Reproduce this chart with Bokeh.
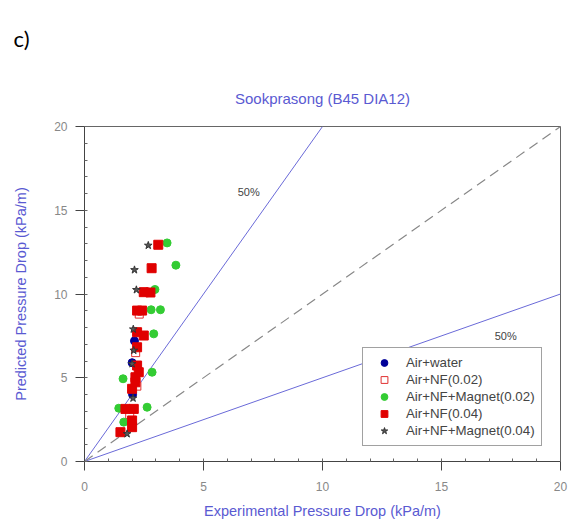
import numpy as np
from bokeh.plotting import figure
from bokeh.models import Range1d, Label, Legend, LegendItem, FixedTicker, Title
from bokeh.embed import file_html
from bokeh.resources import INLINE

# ---- data ----
water_x = [2.00, 2.02, 2.10]
water_y = [5.90, 4.00, 7.20]

nf02_x = [2.15, 2.20, 1.90, 2.30]
nf02_y = [6.50, 4.50, 2.80, 8.80]

mag02_x = [3.47, 3.84, 2.96, 2.80, 3.19, 2.91, 2.84, 1.62, 1.44, 2.63, 1.65]
mag02_y = [13.05, 11.72, 10.27, 9.06, 9.06, 7.62, 5.33, 4.94, 3.18, 3.24, 2.35]

nf04_x = [3.10, 2.82, 2.49, 2.77, 2.21, 2.42, 2.21, 2.49, 2.21, 2.21, 2.28, 2.14, 2.14,
          2.00, 1.72, 2.07, 2.00, 2.00, 1.51]
nf04_y = [12.94, 11.54, 10.11, 10.09, 9.01, 9.01, 7.72, 7.52, 6.82, 5.73, 5.33, 5.03, 4.73,
          4.34, 3.14, 3.14, 2.45, 2.05, 1.75]

mag04_x = [2.68, 2.10, 2.18, 2.05, 2.07, 2.00, 2.04, 1.79]
mag04_y = [12.90, 11.44, 10.25, 7.90, 6.63, 5.83, 3.78, 1.65]

ref_x = [0, 20]
upper_x = [0, 10]
lower_x = [0, 20]

legend_labels = ["Air+water", "Air+NF(0.02)", "Air+NF+Magnet(0.02)", "Air+NF(0.04)", "Air+NF+Magnet(0.04)"]
ticks = [0, 5, 10, 15, 20]

TXT = "Liberation Sans"
BLUE_TXT = "#5a5ad2"
LINE_BLUE = "#6a6ad8"

p = figure(width=583, height=524, output_backend="svg", toolbar_location=None,
           x_range=Range1d(0, 20), y_range=Range1d(0, 20),
           min_border_left=84, min_border_right=23, min_border_top=126, min_border_bottom=63)
p.grid.visible = False
p.outline_line_color = "#666666"
p.outline_line_width = 1
p.background_fill_color = "white"
p.border_fill_color = "white"

for ax in (p.xaxis[0], p.yaxis[0]):
    ax.ticker = FixedTicker(ticks=ticks, minor_ticks=list(range(0, 21)))
    ax.axis_line_color = "#444444"
    ax.major_tick_line_color = "#444444"
    ax.minor_tick_line_color = "#666666"
    ax.major_tick_out = 9
    ax.major_tick_in = 0
    ax.minor_tick_in = 3
    ax.minor_tick_out = 0
    ax.major_label_text_font = TXT
    ax.major_label_text_font_size = "12px"
    ax.major_label_text_color = "#888888"
    ax.axis_label_text_font = TXT
    ax.axis_label_text_font_size = "14.5px"
    ax.axis_label_text_font_style = "normal"
    ax.axis_label_text_color = BLUE_TXT
p.xaxis.major_label_standoff = 11
p.yaxis.major_label_standoff = 8
p.xaxis.axis_label = "Experimental Pressure Drop (kPa/m)"
p.yaxis.axis_label = "Predicted Pressure Drop (kPa/m)"
p.xaxis.axis_label_standoff = 9
p.yaxis.axis_label_standoff = 22

# titles: p.title is the outer one ("c)"), the added title sits next to the frame
p.title.text = "c)"
p.title.align = "left"
p.title.offset = -71
p.title.text_font = "Lato"
p.title.text_font_size = "22px"
p.title.text_font_style = "normal"
p.title.text_color = "#000000"
p.title.standoff = 34
p.add_layout(Title(text="Sookprasong (B45 DIA12)", align="center", text_font=TXT,
                   text_font_size="15px", text_font_style="normal", text_color=BLUE_TXT,
                   standoff=39), "above")

# lines
p.line(lower_x, [0.5 * v for v in lower_x], line_color=LINE_BLUE, line_width=1)
p.line(upper_x, [2.0 * v for v in upper_x], line_color=LINE_BLUE, line_width=1)
p.line(ref_x, ref_x, line_color="#888888", line_width=1.2, line_dash="10 6")

r_water = p.scatter(water_x, water_y, marker="circle", size=8, fill_color="#000099", line_color="#000099")
r_nf02 = p.scatter(nf02_x, nf02_y, marker="square", size=8, fill_color="white", line_color="#e03030")
r_mag02 = p.scatter(mag02_x, mag02_y, marker="circle", size=8, fill_color="#33cc33", line_color="#33cc33")
r_nf04 = p.scatter(nf04_x, nf04_y, marker="square", size=9, fill_color="#e00000", line_color="#e00000")
r_mag04 = p.scatter(mag04_x, mag04_y, marker="star", size=8, fill_color="#555555", line_color="#333333")

legend = Legend(items=[LegendItem(label=l, renderers=[r]) for l, r in
                       zip(legend_labels, [r_water, r_nf02, r_mag02, r_nf04, r_mag04])],
                location=(278, 15), orientation="vertical",
                glyph_height=17, glyph_width=30, label_height=17, label_standoff=7,
                spacing=0, padding=6, margin=0,
                label_text_font=TXT, label_text_font_size="13.3px", label_text_color="#444444",
                border_line_color="#444444", border_line_width=1, background_fill_alpha=1)
p.add_layout(legend, "center")

# annotations
p.add_layout(Label(x=6.9, y=16.06, text="50%", text_font=TXT, text_font_size="11px",
                   text_color="#444444", text_align="center", text_baseline="middle"))
p.add_layout(Label(x=17.7, y=7.52, text="50%", text_font=TXT, text_font_size="11px",
                   text_color="#444444", text_align="center", text_baseline="middle"))

open("out.html", "w").write(file_html(p, INLINE))
